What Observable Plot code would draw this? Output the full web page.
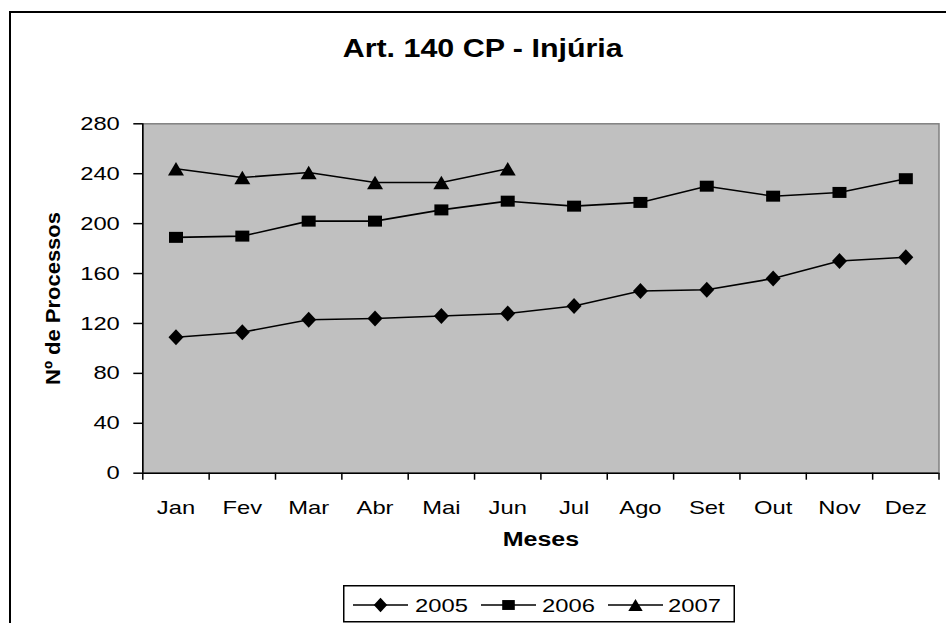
<!DOCTYPE html>
<html><head><meta charset="utf-8">
<script src="https://cdn.jsdelivr.net/npm/d3@7"></script>
<script src="https://cdn.jsdelivr.net/npm/@observablehq/plot@0.6"></script>
<style>
html,body{margin:0;padding:0;width:946px;height:623px;overflow:hidden;background:#fff;font-family:"Liberation Sans",Arial,sans-serif;}
#frame{position:absolute;left:9px;top:11px;width:1000px;height:700px;border:2px solid #000;box-sizing:border-box;}
#title{position:absolute;left:0;top:35px;width:965px;text-align:center;font-size:26px;line-height:26px;font-weight:bold;color:#000;}
#title span{display:inline-block;transform-origin:50% 50%;}
#chart{position:absolute;left:0;top:95px;}
#legend{position:absolute;left:343px;top:585px;}
</style></head><body>
<div id="frame"></div>
<div id="title"><span id="titleSpan"></span></div>
<div id="chart"></div>
<div id="legend"></div>
<script>
const months = ["Jan","Fev","Mar","Abr","Mai","Jun","Jul","Ago","Set","Out","Nov","Dez"];
const years = ["2005","2006","2007"];
const v2005 = [109,113,123,124,126,128,134,146,147,156,170,173];
const v2006 = [189,190,202,202,211,218,214,217,230,222,225,236];
const v2007 = [244,237,241,233,233,244];
const yTicks = [0,40,80,120,160,200,240,280];
const titleText = "Art. 140 CP - Injúria";
const xLabel = "Meses";
const yLabel = "Nº de Processos";

const K = 1.25; // horizontal glyph stretch of the reference

// title, stretched to the reference's width
const ts = document.getElementById("titleSpan");
ts.textContent = titleText;
const tw = ts.getBoundingClientRect().width;
ts.style.transform = `scaleX(${280 / tw})`;

const diamondSym = {draw(c){c.moveTo(0,-8);c.lineTo(7.5,0);c.lineTo(0,8);c.lineTo(-7.5,0);c.closePath();}};
const squareSym = {draw(c){c.moveTo(-7,-5.5);c.lineTo(7,-5.5);c.lineTo(7,5.5);c.lineTo(-7,5.5);c.closePath();}};
const triangleSym = {draw(c){c.moveTo(0,-6.7);c.lineTo(8,6.7);c.lineTo(-8,6.7);c.closePath();}};
const symbols = [diamondSym, squareSym, triangleSym];
const series = [v2005, v2006, v2007];

const rows = series.flatMap((vals, s) => vals.map((v, i) => ({year: years[s], month: months[i], xi: i + 0.5, value: v})));

const marks = [
  Plot.frame({fill: "#C0C0C0", stroke: "#808080", strokeWidth: 1.5}),
  Plot.ruleX([0], {stroke: "#000", strokeWidth: 1.6}),
  Plot.ruleY([0], {stroke: "#000", strokeWidth: 1.6}),
  Plot.axisY(yTicks, {tickSize: 9, tickPadding: 14, strokeWidth: 1.5, label: null, fontSize: 19}),
  Plot.axisX(d3.range(months.length + 1), {tickSize: 7, tickFormat: () => "", strokeWidth: 1.5, label: null}),
  Plot.axisX(months.map((m, i) => i + 0.5), {tickSize: 0, tickPadding: 27, tickFormat: d => months[Math.floor(d)], label: null, fontSize: 19}),
  Plot.line(rows, {x: "xi", y: "value", z: "year", stroke: "#000", strokeWidth: 1.6}),
  ...years.map((y, s) => Plot.dot(rows.filter(r => r.year === y), {x: "xi", y: "value", symbol: symbols[s], fill: "#000", stroke: "none"})),
  Plot.text([xLabel], {text: d => d, frameAnchor: "bottom", dy: 72.5, fontWeight: "bold", fontSize: 20, textAnchor: "middle"}),
  Plot.text([yLabel], {text: d => d, frameAnchor: "left", dx: -89.3, rotate: -90, fontWeight: "bold", fontSize: 21, textAnchor: "middle"})
];

const chart = Plot.plot({
  width: 946, height: 475,
  marginLeft: 142.3, marginRight: 7.5, marginTop: 28.3, marginBottom: 97.3,
  x: {domain: [0, months.length], axis: null},
  y: {domain: [0, 280], axis: null},
  style: {fontFamily: '"Liberation Sans", Arial, sans-serif', fontSize: "19px", color: "#000", background: "transparent", overflow: "visible"},
  marks
});
document.getElementById("chart").appendChild(chart);

chart.querySelectorAll("text").forEach(t => {
  const L = t.getComputedTextLength();
  if (!(L > 0)) return;
  if (t.textContent === yLabel) {
    t.setAttribute("textLength", 173);
  } else {
    t.setAttribute("textLength", L * K);
  }
  t.setAttribute("lengthAdjust", "spacingAndGlyphs");
});

// legend
const lg = d3.select("#legend").append("svg").attr("width", 394).attr("height", 40)
  .style("font-family", '"Liberation Sans", Arial, sans-serif');
lg.append("rect").attr("x", 0.75).attr("y", 0.75).attr("width", 390.5).attr("height", 36)
  .attr("fill", "#fff").attr("stroke", "#000").attr("stroke-width", 1.5);
const lineStarts = [10, 138, 265];
const textStarts = [72, 199, 325];
years.forEach((y, s) => {
  const x0 = lineStarts[s], x1 = x0 + 55, cx = (x0 + x1) / 2;
  lg.append("line").attr("x1", x0).attr("x2", x1).attr("y1", 20).attr("y2", 20).attr("stroke", "#000").attr("stroke-width", 1.6);
  const p = d3.path(); symbols[s].draw(p, 64);
  lg.append("path").attr("d", p.toString()).attr("transform", `translate(${cx},20) scale(0.9)`).attr("fill", "#000");
  const t = lg.append("text").attr("x", textStarts[s]).attr("y", 27).attr("font-size", 19).attr("fill", "#000").text(y);
  const L = t.node().getComputedTextLength();
  t.attr("textLength", L * K).attr("lengthAdjust", "spacingAndGlyphs");
});
</script>
</body></html>
